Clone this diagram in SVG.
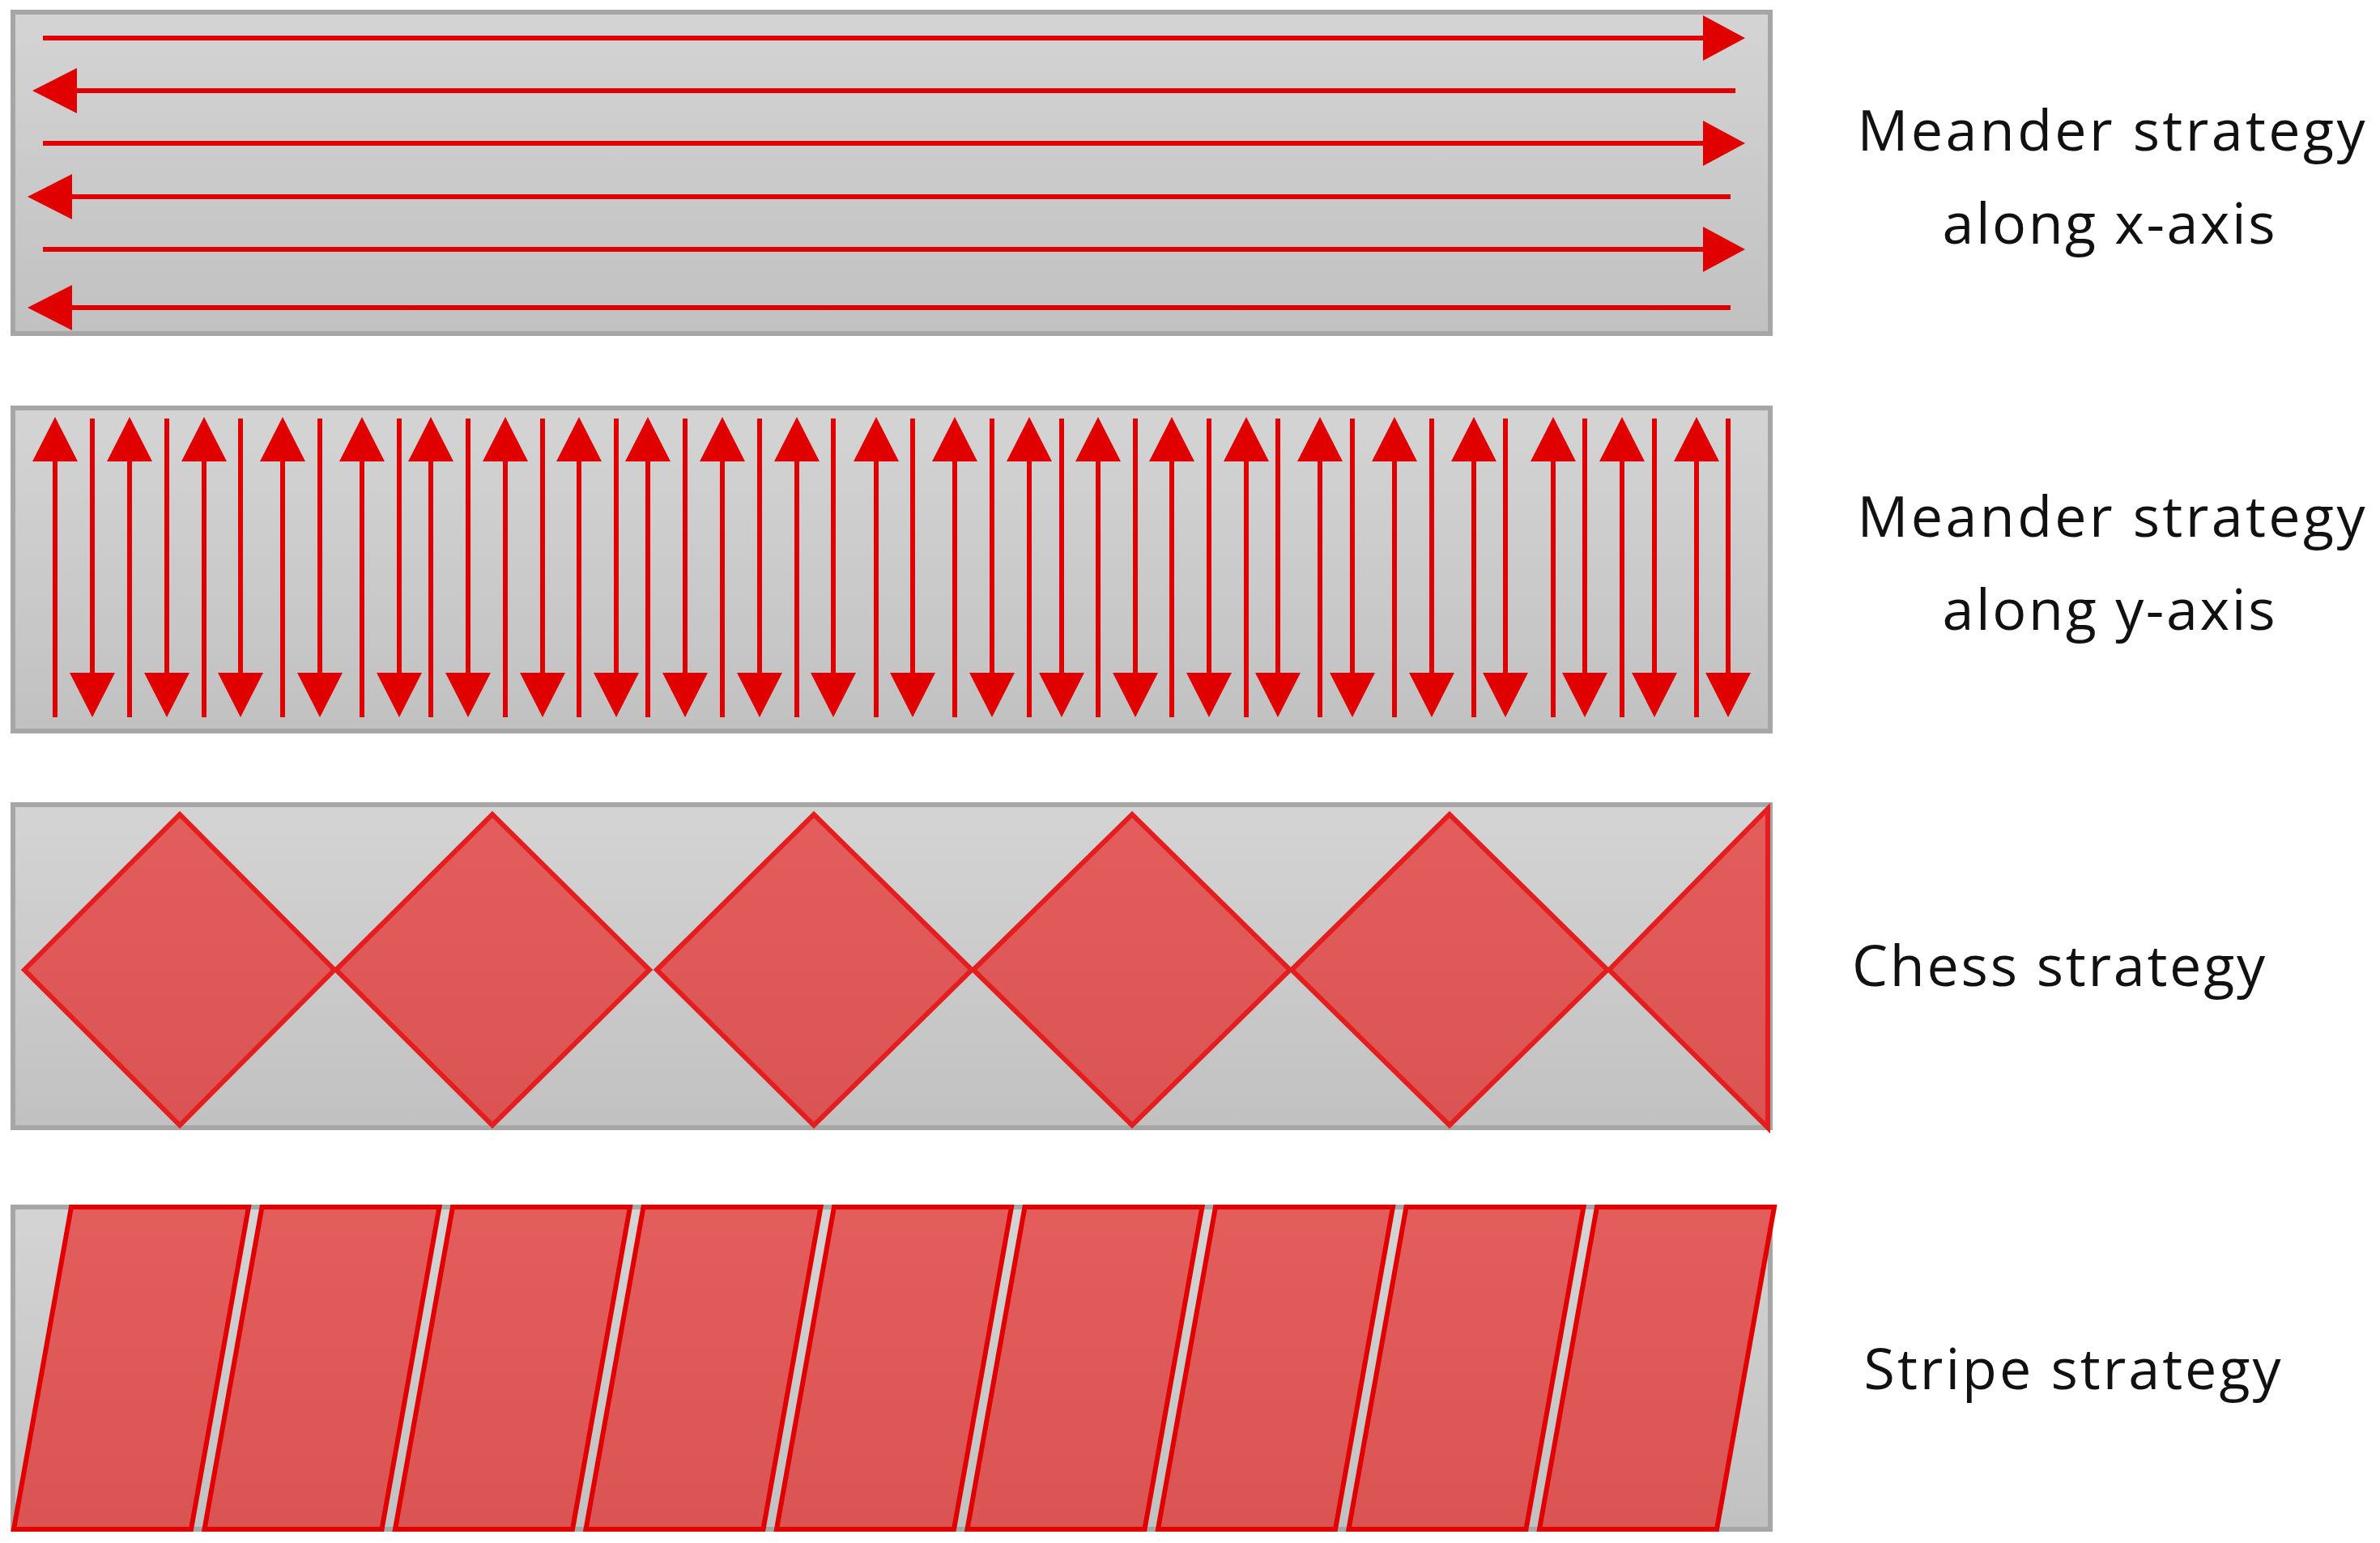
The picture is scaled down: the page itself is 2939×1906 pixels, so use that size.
<svg xmlns="http://www.w3.org/2000/svg" width="2939" height="1906" viewBox="0 0 2939 1906">
<style>
.panel{stroke:#a6a6a6;stroke-width:6}
.ar{stroke:#e00000;stroke-width:6;fill:none}
.hd{fill:#e00000}
.dia{fill:url(#rf);stroke:#e41e1e;stroke-width:6;stroke-linejoin:miter}
.str{fill:url(#rf);stroke:#e00000;stroke-width:6;stroke-linejoin:miter}
.lbl{font-family:"Open Sans","Liberation Sans",sans-serif;font-size:70px;fill:#111;text-anchor:middle}
</style>
<defs>
<linearGradient id="g1" x1="0" y1="0" x2="0" y2="1"><stop offset="0" stop-color="#d4d4d4"/><stop offset="1" stop-color="#c1c1c1"/></linearGradient>
<linearGradient id="rf" x1="0" y1="0" x2="0" y2="1"><stop offset="0" stop-color="#e45d5d"/><stop offset="1" stop-color="#da5454"/></linearGradient>
</defs>
<rect width="2939" height="1906" fill="#ffffff"/>

<g id="panel-x">
<rect class="panel" x="16" y="15" width="2170" height="397" fill="url(#g1)"/>
<g id="arrows-x">
<line class="ar" x1="53" y1="47" x2="2110" y2="47"/><polygon class="hd" points="2103,19 2155,47 2103,75"/>
<line class="ar" x1="90" y1="112" x2="2143" y2="112"/><polygon class="hd" points="95,84 40,112 95,140"/>
<line class="ar" x1="53" y1="177" x2="2110" y2="177"/><polygon class="hd" points="2103,149 2155,177 2103,205"/>
<line class="ar" x1="84" y1="243" x2="2137" y2="243"/><polygon class="hd" points="89,215 34,243 89,271"/>
<line class="ar" x1="53" y1="308" x2="2110" y2="308"/><polygon class="hd" points="2103,280 2155,308 2103,336"/>
<line class="ar" x1="84" y1="380" x2="2137" y2="380"/><polygon class="hd" points="89,352 34,380 89,408"/>
</g>
</g>

<g id="panel-y">
<rect class="panel" x="16" y="504" width="2170" height="399" fill="url(#g1)"/>
<g id="arrows-y">
<g id="up">
<path class="ar" d="M68,886V565M160,886V565M252,886V565M349,886V565M447,886V565M532,886V565M624,886V565M715,886V565M800,886V565M892,886V565M984,886V565M1082,886V565M1179,886V565M1271,886V565M1356,886V565M1447,886V565M1539,886V565M1630,886V565M1722,886V565M1820,886V565M1918,886V565M2003,886V565M2095,886V565"/>
<path class="hd" d="M68,515l-28,55h56zM160,515l-28,55h56zM252,515l-28,55h56zM349,515l-28,55h56zM447,515l-28,55h56zM532,515l-28,55h56zM624,515l-28,55h56zM715,515l-28,55h56zM800,515l-28,55h56zM892,515l-28,55h56zM984,515l-28,55h56zM1082,515l-28,55h56zM1179,515l-28,55h56zM1271,515l-28,55h56zM1356,515l-28,55h56zM1447,515l-28,55h56zM1539,515l-28,55h56zM1630,515l-28,55h56zM1722,515l-28,55h56zM1820,515l-28,55h56zM1918,515l-28,55h56zM2003,515l-28,55h56zM2095,515l-28,55h56z"/>
</g>
<g id="down">
<path class="ar" d="M114,517V835M206,517V835M297,517V835M395,517V835M493,517V835M578,517V835M670,517V835M761,517V835M846,517V835M938,517V835M1029,517V835M1127,517V835M1225,517V835M1311,517V835M1402,517V835M1493,517V835M1578,517V835M1670,517V835M1768,517V835M1859,517V835M1957,517V835M2043,517V835M2134,517V835"/>
<path class="hd" d="M114,886l-28,-55h56zM206,886l-28,-55h56zM297,886l-28,-55h56zM395,886l-28,-55h56zM493,886l-28,-55h56zM578,886l-28,-55h56zM670,886l-28,-55h56zM761,886l-28,-55h56zM846,886l-28,-55h56zM938,886l-28,-55h56zM1029,886l-28,-55h56zM1127,886l-28,-55h56zM1225,886l-28,-55h56zM1311,886l-28,-55h56zM1402,886l-28,-55h56zM1493,886l-28,-55h56zM1578,886l-28,-55h56zM1670,886l-28,-55h56zM1768,886l-28,-55h56zM1859,886l-28,-55h56zM1957,886l-28,-55h56zM2043,886l-28,-55h56zM2134,886l-28,-55h56z"/>
</g>
</g>
</g>

<g id="panel-chess">
<rect class="panel" x="16" y="994" width="2170" height="399" fill="url(#g1)"/>
<g id="diamonds">
<polygon class="dia" points="30,1198 222,1006 413,1198 222,1390"/>
<polygon class="dia" points="415,1198 608,1006 802,1198 608,1390"/>
<polygon class="dia" points="811,1198 1005,1006 1200,1198 1005,1390"/>
<polygon class="dia" points="1202,1198 1398,1006 1593,1198 1398,1390"/>
<polygon class="dia" points="1595,1198 1790,1006 1985,1198 1790,1390"/>
<polygon class="dia" points="1987,1198 2183,999 2183,1393"/>
</g>
</g>

<g id="panel-stripe">
<rect class="panel" x="16" y="1491" width="2170" height="398" fill="url(#g1)"/>
<g id="stripes">
<polygon class="str" points="88,1491 307,1491 236,1889 17,1889"/>
<polygon class="str" points="323.5,1491 542.5,1491 471.5,1889 252.5,1889"/>
<polygon class="str" points="559,1491 778,1491 707,1889 488,1889"/>
<polygon class="str" points="794.5,1491 1013.5,1491 942.5,1889 723.5,1889"/>
<polygon class="str" points="1030,1491 1249,1491 1178,1889 959,1889"/>
<polygon class="str" points="1265.5,1491 1484.5,1491 1413.5,1889 1194.5,1889"/>
<polygon class="str" points="1501,1491 1720,1491 1649,1889 1430,1889"/>
<polygon class="str" points="1736.5,1491 1955.5,1491 1884.5,1889 1665.5,1889"/>
<polygon class="str" points="1972,1491 2191,1491 2120,1889 1901,1889"/>
</g>
</g>

<g id="labels">
<text class="lbl" x="2607" y="186" textLength="627" lengthAdjust="spacing">Meander strategy</text>
<text class="lbl" x="2604" y="301" textLength="411" lengthAdjust="spacing">along x-axis</text>
<text class="lbl" x="2607" y="663" textLength="627" lengthAdjust="spacing">Meander strategy</text>
<text class="lbl" x="2604" y="778" textLength="411" lengthAdjust="spacing">along y-axis</text>
<text class="lbl" x="2542" y="1218" textLength="510" lengthAdjust="spacing">Chess strategy</text>
<text class="lbl" x="2559" y="1716" textLength="515" lengthAdjust="spacing">Stripe strategy</text>
</g>
</svg>
